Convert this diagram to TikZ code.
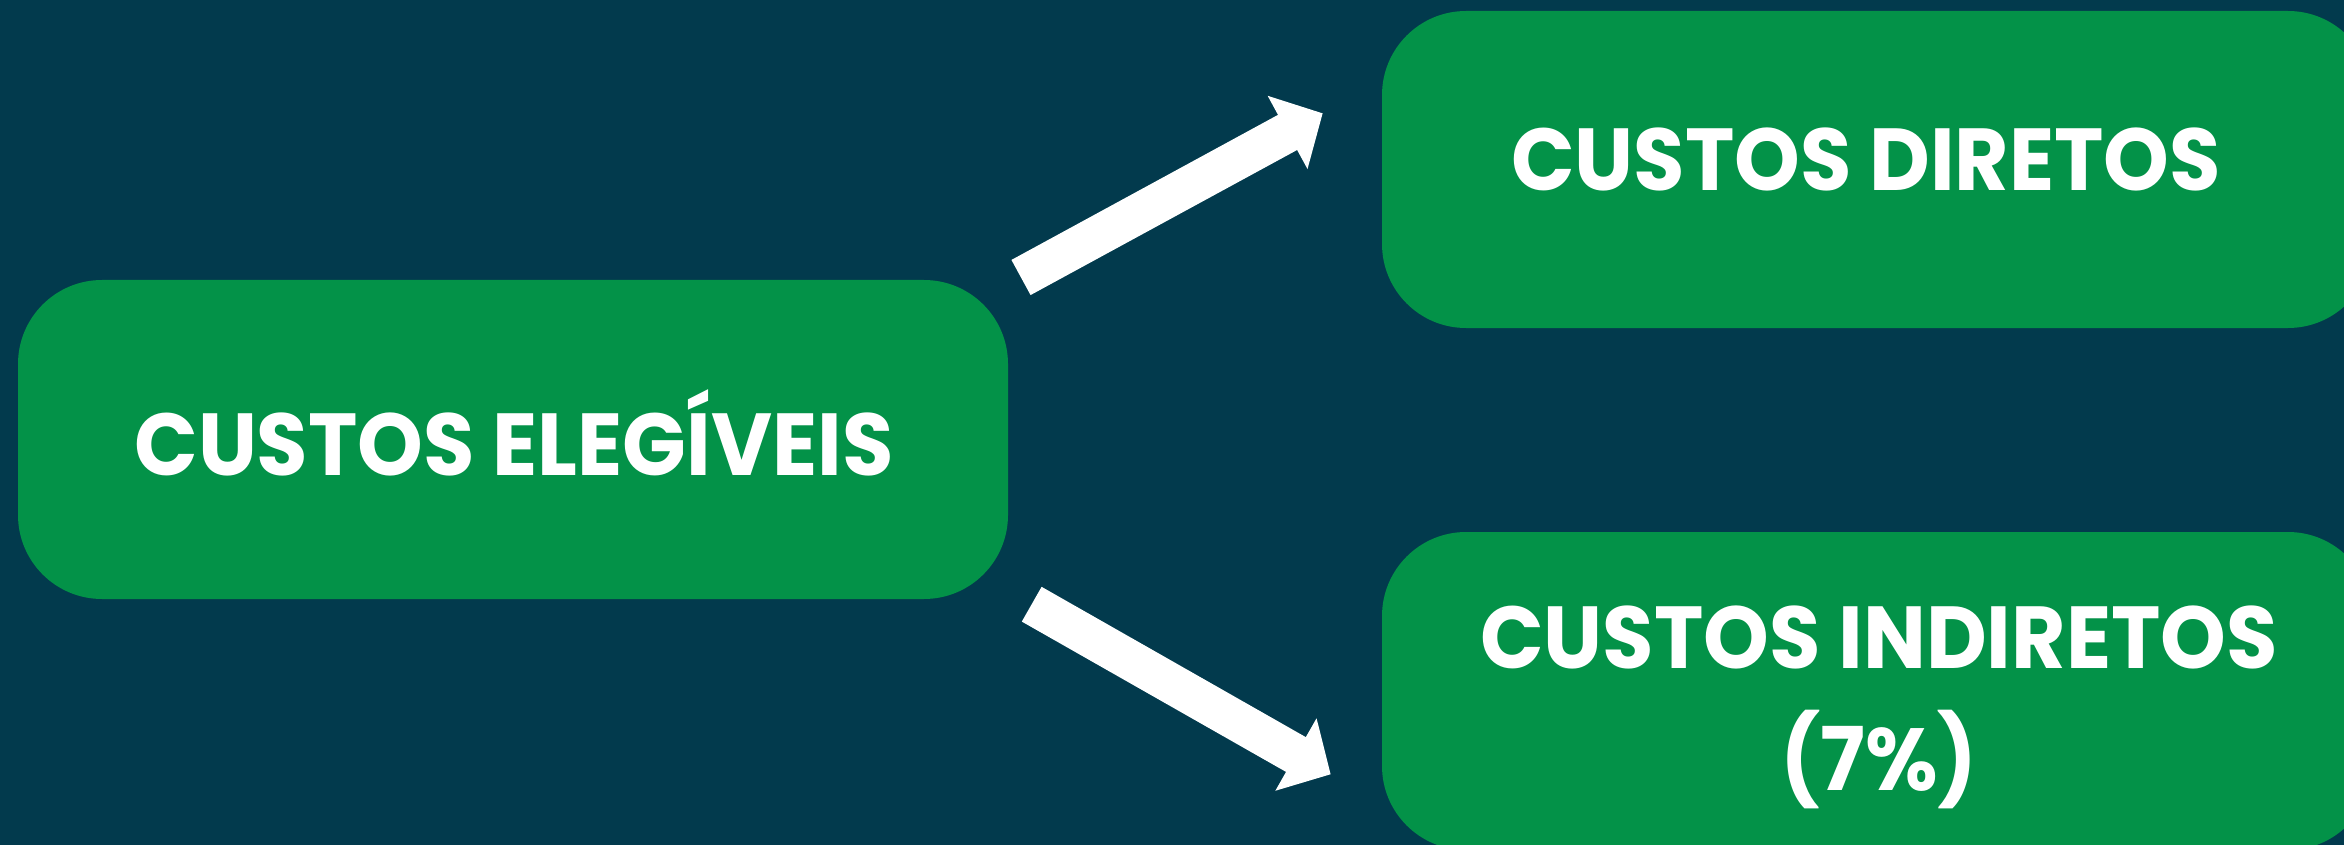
\documentclass[tikz,border=0pt]{standalone}
\usepackage{fontspec}
\setmainfont{Poppins}[FakeStretch=0.95]
\usetikzlibrary{arrows.meta}
\definecolor{bgblue}{HTML}{023A4D}
\definecolor{boxgreen}{HTML}{039248}
\begin{document}
\begin{tikzpicture}[x=0.5pt,y=-0.5pt,
  box/.style={fill=boxgreen, rounded corners=42pt, inner sep=0, minimum width=495pt},
  lbl/.style={text=white, font=\fontsize{44}{61}\selectfont\bfseries, align=center, inner sep=0, anchor=base},
  bigarrow/.style={draw=white, line width=20pt, -{Triangle[length=20pt,width=40.5pt]}}]
\useasboundingbox (0,0) rectangle (2344,845);
\fill[bgblue] (0,0) rectangle (2344,845);
\node[box, minimum height=159.5pt] (src) at (513,439.5) {};
\node[box, minimum height=158.5pt] (dir) at (1877,169.5) {};
\node[box, minimum height=159pt] (ind) at (1877,691) {};
\node[lbl] (srct) at (514,475) {CUSTOS ELEGÍVEIS};
\node[lbl] (dirt) at (1866,190.7) {CUSTOS DIRETOS};
\node[lbl] (indt) at (1879,790) {CUSTOS INDIRETOS\\(7\%)};
\coordinate (u0) at (1021,277.5);
\coordinate (u1) at (1322.7,113.3);
\coordinate (d0) at (1031.7,604.2);
\coordinate (d1) at (1330.7,774.3);
\draw[bigarrow] (u0) -- (u1);
\draw[bigarrow] (d0) -- (d1);
\end{tikzpicture}
\end{document}
